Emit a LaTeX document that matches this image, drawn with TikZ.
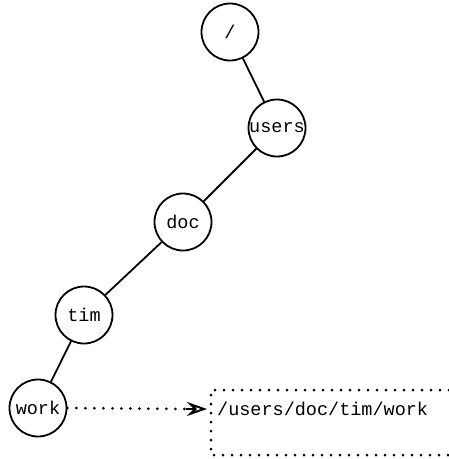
\documentclass[tikz,border=0pt]{standalone}
\usepackage{fontspec}
\setmonofont{Liberation Mono}
\usetikzlibrary{arrows.meta}
\begin{document}
\begin{tikzpicture}[x=1pt,y=-1pt,
  dirnode/.style={draw,circle,line width=1.8pt,minimum size=57pt,inner sep=0pt,font=\ttfamily\fontsize{18.5}{20}\selectfont},
  edge/.style={line width=1.8pt},
  dotline/.style={line width=3pt,line cap=round,dash pattern=on 0pt off 9pt}]
\useasboundingbox (0,0) rectangle (449,459);
\node[dirnode] (root)  at (230,32)  {/};
\node[dirnode] (users) at (277,128) {users};
\node[dirnode] (doc)   at (183,222) {doc};
\node[dirnode] (tim)   at (84,315)  {tim};
\node[dirnode] (work)  at (38,408)  {work};
\draw[edge] (root) -- (users);
\draw[edge] (users) -- (doc);
\draw[edge] (doc) -- (tim);
\draw[edge] (tim) -- (work);
% dotted frame around the path name, open at the right
\coordinate (tr) at (449,390);
\coordinate (tl) at (211,390);
\coordinate (bl) at (211,455);
\coordinate (br) at (449,455);
\draw[dotline] (tr) -- (tl) -- (bl) -- (br);
\node[anchor=west,inner sep=0pt,font=\ttfamily\fontsize{18.5}{20}\selectfont] (path) at (217,409) {/users/doc/tim/work};
\coordinate (tip) at (207,409);
\draw[dotline] (work.east) -- ([xshift=-20pt]tip);
\draw[line width=2pt,-{Stealth[length=20pt,width=14pt,inset=7pt,open]}] ([xshift=-21pt]tip) -- (tip);
\end{tikzpicture}
\end{document}
